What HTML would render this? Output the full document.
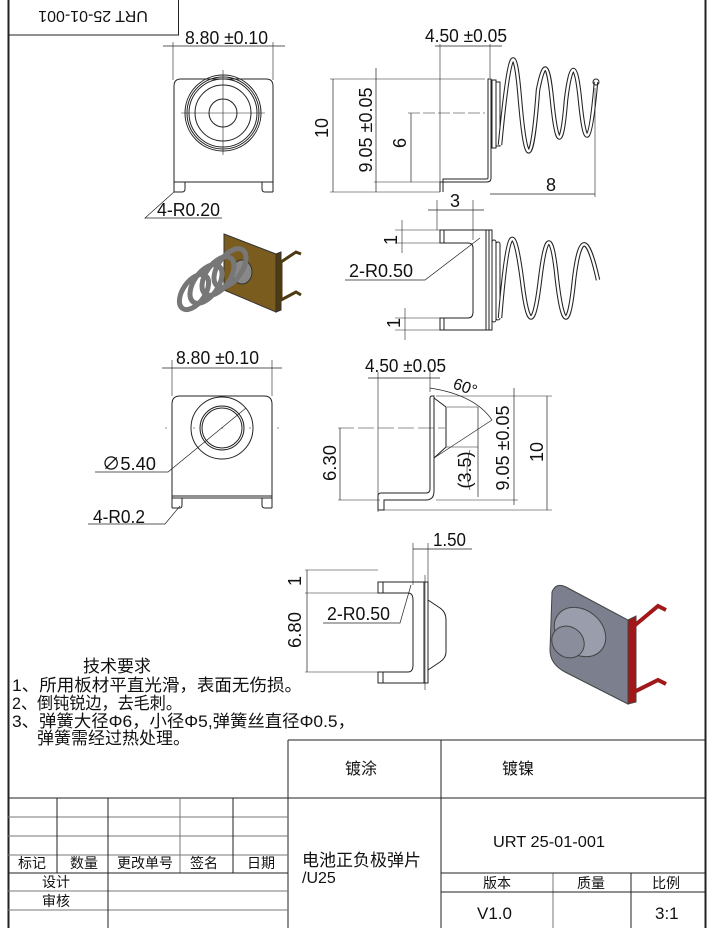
<!DOCTYPE html>
<html><head><meta charset="utf-8"><style>
body{margin:0;background:#fff}
svg{display:block}
text{font-family:"Liberation Sans","Noto Sans CJK SC",sans-serif;fill:#111}
</style></head><body>
<svg width="713" height="928" viewBox="0 0 713 928" xmlns="http://www.w3.org/2000/svg">
<g fill="none" stroke="#222" stroke-width="1">
<line x1="8.5" y1="0" x2="8.5" y2="928" stroke-width="2"/>
<line x1="705.5" y1="0" x2="705.5" y2="928" stroke-width="2"/>
<rect x="8.5" y="-2" width="170" height="37"/>
</g>
<text x="93" y="11" font-size="16" text-anchor="middle" transform="rotate(180 93 11)">URT 25-01-001</text>

<g fill="none" stroke="#222" stroke-width="1">
<path d="M174 192 V86 Q174 79 181 79 H266 Q273 79 273 86 V192"/>
<line x1="174" y1="182" x2="273" y2="182"/>
<path d="M174 192 H182 Q185 192 185 189 V182 M262 182 V189 Q262 192 265 192 H273"/>
<circle cx="223" cy="113" r="38"/><circle cx="223" cy="113" r="36"/><circle cx="223" cy="113" r="34"/>
<circle cx="223" cy="113" r="28"/><circle cx="223" cy="113" r="14"/>
<line x1="181" y1="113" x2="265" y2="113" stroke-width=".6"/><line x1="223" y1="70" x2="223" y2="155" stroke-width=".6"/>
<line x1="173" y1="42" x2="173" y2="80" stroke-width=".6"/><line x1="273" y1="42" x2="273" y2="80" stroke-width=".6"/>
<line x1="163" y1="46" x2="285" y2="46" stroke-width=".7"/>
<path d="M174 192 L145 218 H222" stroke-width=".7"/>
<line x1="330" y1="79" x2="485" y2="79" stroke-width=".6"/>
<line x1="330" y1="192" x2="440" y2="192" stroke-width=".6"/>
<line x1="374" y1="182" x2="440" y2="182" stroke-width=".6"/>
<line x1="408" y1="113" x2="485" y2="113" stroke-width=".6" stroke-dasharray="12 3"/>
<line x1="333" y1="79" x2="333" y2="192" stroke-width=".7"/>
<line x1="376" y1="68" x2="376" y2="192" stroke-width=".7"/>
<line x1="411" y1="113" x2="411" y2="182" stroke-width=".7"/>
<line x1="440" y1="44" x2="440" y2="192" stroke-width=".6"/>
<line x1="490" y1="44" x2="490" y2="78" stroke-width=".6"/>
<line x1="435" y1="46" x2="502" y2="46" stroke-width=".7"/>
<path d="M440 192 V182 H487 Q491 182 491 178 V79 H488 V178 Q488 179 486 179 H443 V192"/>
<rect x="492" y="80" width="4" height="68"/><rect x="496" y="82" width="4" height="64"/>
<path d="M500 145 C510 40 515 40 520 100 C526 170 532 170 538 90 C544 60 548 60 552 100 C557 150 562 150 566 100 C571 60 576 60 580 100 C585 150 590 150 596 82" stroke-width="4.5"/>
<path d="M500 145 C510 40 515 40 520 100 C526 170 532 170 538 90 C544 60 548 60 552 100 C557 150 562 150 566 100 C571 60 576 60 580 100 C585 150 590 150 596 82" stroke="#fff" stroke-width="2.4"/>
<circle cx="596" cy="82" r="3"/>
<line x1="595" y1="88" x2="595" y2="197" stroke-width=".6"/>
<line x1="490" y1="194" x2="595" y2="194" stroke-width=".7"/>
<line x1="437" y1="200" x2="437" y2="230" stroke-width=".6"/><line x1="473" y1="200" x2="473" y2="240" stroke-width=".6"/>
<line x1="428" y1="210" x2="484" y2="210" stroke-width=".7"/>
<rect x="486" y="230" width="6" height="100"/><line x1="489" y1="230" x2="489" y2="330"/>
<path d="M486 230 H440 V243 H468 Q473 243 473 248 V312 Q473 318 468 318 H440 V330 H486"/>
<line x1="444" y1="230" x2="444" y2="243"/><line x1="444" y1="318" x2="444" y2="330"/>
<rect x="492" y="240" width="4" height="82" rx="2"/><rect x="496" y="242" width="4" height="78" rx="2"/>
<path d="M500 318 C508 220 514 220 522 280 C528 330 534 330 540 280 C546 230 552 230 557 280 C563 330 569 330 574 280 C580 230 588 235 598 280" stroke-width="4.5"/>
<path d="M500 318 C508 220 514 220 522 280 C528 330 534 330 540 280 C546 230 552 230 557 280 C563 330 569 330 574 280 C580 230 588 235 598 280" stroke="#fff" stroke-width="2.4"/>
<line x1="395" y1="230" x2="440" y2="230" stroke-width=".5"/><line x1="395" y1="243" x2="440" y2="243" stroke-width=".5"/>
<line x1="402" y1="220" x2="402" y2="253" stroke-width=".6"/>
<line x1="395" y1="318" x2="440" y2="318" stroke-width=".5"/><line x1="395" y1="330" x2="440" y2="330" stroke-width=".5"/>
<line x1="405" y1="308" x2="405" y2="340" stroke-width=".6"/>
<path d="M480 238 L425 280 H345" stroke-width=".7"/>
<path d="M172 508 V404 Q172 396 180 396 H264 Q272 396 272 404 V508"/>
<line x1="172" y1="496" x2="272" y2="496"/><line x1="172" y1="498" x2="272" y2="498"/>
<path d="M172 508 H180 Q182 508 182 505 V498 M262 498 V505 Q262 508 265 508 H272"/>
<circle cx="222" cy="428" r="31"/><circle cx="222" cy="428" r="22"/><circle cx="222" cy="428" r="20"/>
<line x1="165" y1="428" x2="282" y2="428" stroke-width=".5" stroke-dasharray="2 26"/>
<line x1="172" y1="360" x2="172" y2="396" stroke-width=".6"/><line x1="272" y1="360" x2="272" y2="396" stroke-width=".6"/>
<line x1="162" y1="368" x2="282" y2="368" stroke-width=".7"/>
<path d="M246 408 L168 472 H95" stroke-width=".7"/>
<path d="M180 506 L165 524 H88" stroke-width=".7"/>
<line x1="378" y1="372" x2="378" y2="512" stroke-width=".6"/>
<line x1="430" y1="368" x2="430" y2="392" stroke-width=".6"/>
<line x1="368" y1="378" x2="440" y2="378" stroke-width=".7"/>
<path d="M378 510 V496 Q378 493 381 493 H426 Q430 493 430 489 V398 Q430 396 432 396 H434 V491 Q434 500 426 500 H384 V510 Z"/>
<path d="M434 398 L446 407 V447 L434 458"/><line x1="447" y1="407" x2="478" y2="407" stroke-width=".6"/>
<line x1="446" y1="447" x2="478" y2="447" stroke-width=".6"/>
<path d="M434 458 L492 420" stroke-width=".7"/>
<path d="M430 388 Q475 395 492 420" stroke-width=".7"/>
<line x1="338" y1="428" x2="445" y2="428" stroke-width=".6" stroke-dasharray="16 4"/>
<line x1="340" y1="428" x2="340" y2="500" stroke-width=".7"/>
<line x1="338" y1="500" x2="380" y2="500" stroke-width=".6"/>
<line x1="478" y1="407" x2="478" y2="497" stroke-width=".7"/>
<path d="M470 450 Q464 470 470 490" stroke-width=".6"/>
<line x1="436" y1="396" x2="552" y2="396" stroke-width=".6"/>
<line x1="436" y1="500" x2="518" y2="500" stroke-width=".6"/>
<line x1="384" y1="510" x2="552" y2="510" stroke-width=".6"/>
<line x1="514" y1="388" x2="514" y2="505" stroke-width=".7"/>
<line x1="547" y1="396" x2="547" y2="510" stroke-width=".7"/>
<line x1="413" y1="543" x2="413" y2="585" stroke-width=".6"/><line x1="428" y1="543" x2="428" y2="585" stroke-width=".6"/>
<line x1="413" y1="549" x2="472" y2="549" stroke-width=".7"/>
<line x1="425" y1="575" x2="425" y2="690" stroke-width=".6"/>
<rect x="424" y="582" width="4" height="101"/>
<path d="M424 582 H378 V593 H408 Q413 593 413 600 V665 Q413 672 408 672 H378 V683 H424"/>
<line x1="383" y1="582" x2="383" y2="593"/><line x1="383" y1="672" x2="383" y2="683"/>
<path d="M428 600 L440 608 Q446 612 446 620 V652 Q446 658 440 662 L428 670"/>
<line x1="305" y1="570" x2="378" y2="570" stroke-width=".5"/>
<line x1="305" y1="593" x2="378" y2="593" stroke-width=".6"/>
<line x1="305" y1="672" x2="378" y2="672" stroke-width=".6"/>
<line x1="307" y1="570" x2="307" y2="672" stroke-width=".7"/>
<path d="M411 585 L400 623 H323" stroke-width=".7"/>
<line x1="288" y1="740" x2="705" y2="740"/>
<line x1="288" y1="740" x2="288" y2="928"/>
<line x1="441" y1="740" x2="441" y2="928"/>
<line x1="8" y1="798" x2="705" y2="798"/>
<g stroke="#777"><line x1="8" y1="817" x2="288" y2="817"/><line x1="8" y1="836" x2="288" y2="836"/><line x1="8" y1="855" x2="288" y2="855"/>
<line x1="8" y1="891" x2="288" y2="891"/><line x1="8" y1="910" x2="288" y2="910"/>
<line x1="180" y1="798" x2="180" y2="873"/><line x1="553" y1="873" x2="553" y2="928"/></g>
<line x1="8" y1="873" x2="288" y2="873"/>
<line x1="57" y1="798" x2="57" y2="873"/><line x1="108" y1="798" x2="108" y2="928"/><line x1="233" y1="798" x2="233" y2="873"/>
<line x1="441" y1="873" x2="705" y2="873"/><line x1="441" y1="892" x2="705" y2="892"/>
<line x1="631" y1="873" x2="631" y2="928"/>
</g>
<g stroke="#333" stroke-width="1">
<polygon points="224,234 276,254 276,312 224,290" fill="#7a5c1f"/>
<polygon points="276,254 281,252 281,310 276,312" fill="#4d3a10"/>
<path d="M281 262 L296 252 L301 254 M281 300 L296 292 L301 295 M281 262 V300" fill="none" stroke="#4d3a10" stroke-width="3"/>
<ellipse cx="242" cy="272" rx="10" ry="12" fill="#888"/>
<g fill="none" stroke="#777" stroke-width="5">
<ellipse cx="230" cy="268" rx="12" ry="22" transform="rotate(35 230 268)"/>
<ellipse cx="218" cy="276" rx="12" ry="22" transform="rotate(35 218 276)"/>
<ellipse cx="206" cy="284" rx="12" ry="22" transform="rotate(35 206 284)"/>
<ellipse cx="194" cy="292" rx="11" ry="20" transform="rotate(35 194 292)"/>
</g></g>
<g stroke="#444" stroke-width="1">
<path d="M552 592 Q556 582 566 587 L628 620 V704 L565 672 Q550 664 550 650 Z" fill="#7c7f8e"/>
<polygon points="628,620 636,616 636,702 628,704" fill="#a01818"/>
<path d="M634 626 L658 606 L666 610 M634 692 L658 680 L666 684 M634 626 V692" fill="none" stroke="#a01818" stroke-width="4"/>
<ellipse cx="580" cy="632" rx="28" ry="22" transform="rotate(40 580 632)" fill="#9a9dac"/>
<ellipse cx="568" cy="642" rx="17" ry="15" transform="rotate(40 568 642)" fill="#8a8d9c"/>
</g>
<g font-size="18">
<text x="185" y="44" textLength="83" lengthAdjust="spacingAndGlyphs">8.80 ±0.10</text>
<text x="157" y="216" textLength="63" lengthAdjust="spacingAndGlyphs">4-R0.20</text>
<text x="425" y="42" textLength="82" lengthAdjust="spacingAndGlyphs">4.50 ±0.05</text>
<text x="546" y="191">8</text>
<text x="450" y="207">3</text>
<text x="349" y="277" textLength="64" lengthAdjust="spacingAndGlyphs">2-R0.50</text>
<text x="176" y="364" textLength="83" lengthAdjust="spacingAndGlyphs">8.80 ±0.10</text>
<text x="102" y="470" textLength="54" lengthAdjust="spacingAndGlyphs">∅5.40</text>
<text x="93" y="523" textLength="52" lengthAdjust="spacingAndGlyphs">4-R0.2</text>
<text x="365" y="372" textLength="81" lengthAdjust="spacingAndGlyphs">4.50 ±0.05</text>
<text x="452" y="388" transform="rotate(20 452 388)" font-size="16">60°</text>
<text x="433" y="546" textLength="33" lengthAdjust="spacingAndGlyphs">1.50</text>
<text x="327" y="620" textLength="63" lengthAdjust="spacingAndGlyphs">2-R0.50</text>
</g>
<g font-size="18" text-anchor="middle">
<text transform="translate(328 128) rotate(-90)">10</text>
<text transform="translate(372 130) rotate(-90)" textLength="85" lengthAdjust="spacingAndGlyphs">9.05 ±0.05</text>
<text transform="translate(406 143) rotate(-90)">6</text>
<text transform="translate(397 240) rotate(-90)">1</text>
<text transform="translate(400 323) rotate(-90)">1</text>
<text transform="translate(336 463) rotate(-90)" textLength="36" lengthAdjust="spacingAndGlyphs">6.30</text>
<text transform="translate(471 470) rotate(-90)">(3.5)</text>
<text transform="translate(509 448) rotate(-90)" textLength="85" lengthAdjust="spacingAndGlyphs">9.05 ±0.05</text>
<text transform="translate(543 452) rotate(-90)">10</text>
<text transform="translate(301 630) rotate(-90)" textLength="36" lengthAdjust="spacingAndGlyphs">6.80</text>
<text transform="translate(301 581) rotate(-90)">1</text>
</g>
<g font-size="17" style="font-family:'Liberation Sans','Noto Serif CJK SC',serif">
<text x="83" y="672">技术要求</text>
<text x="12" y="691" textLength="290" lengthAdjust="spacingAndGlyphs">1、所用板材平直光滑，表面无伤损。</text>
<text x="12" y="709" textLength="170" lengthAdjust="spacingAndGlyphs">2、倒钝锐边，去毛刺。</text>
<text x="12" y="727" textLength="343" lengthAdjust="spacingAndGlyphs">3、弹簧大径Φ6，小径Φ5,弹簧丝直径Φ0.5，</text>
<text x="37" y="744" textLength="153" lengthAdjust="spacingAndGlyphs">弹簧需经过热处理。</text>
</g>
<g font-size="16" style="font-family:'Noto Serif CJK SC',serif">
<text x="345" y="774">镀涂</text>
<text x="502" y="774">镀镍</text>
<text x="18" y="868" font-size="14">标记</text>
<text x="70" y="868" font-size="14">数量</text>
<text x="117" y="868" font-size="14">更改单号</text>
<text x="190" y="868" font-size="14">签名</text>
<text x="247" y="868" font-size="14">日期</text>
<text x="42" y="887" font-size="14">设计</text>
<text x="42" y="906" font-size="14">审核</text>
<text x="483" y="888" font-size="14">版本</text>
<text x="577" y="888" font-size="14">质量</text>
<text x="652" y="888" font-size="14">比例</text>
</g>
<text x="302" y="866" font-size="17" style="font-family:'Liberation Sans','Noto Sans CJK SC',sans-serif">电池正负极弹片</text>
<text x="302" y="883" font-size="16">/U25</text>
<text x="549" y="847" font-size="16" text-anchor="middle" textLength="112" lengthAdjust="spacingAndGlyphs">URT 25-01-001</text>
<text x="477" y="919" font-size="17">V1.0</text>
<text x="655" y="919" font-size="17">3:1</text>
</svg>
</body></html>
